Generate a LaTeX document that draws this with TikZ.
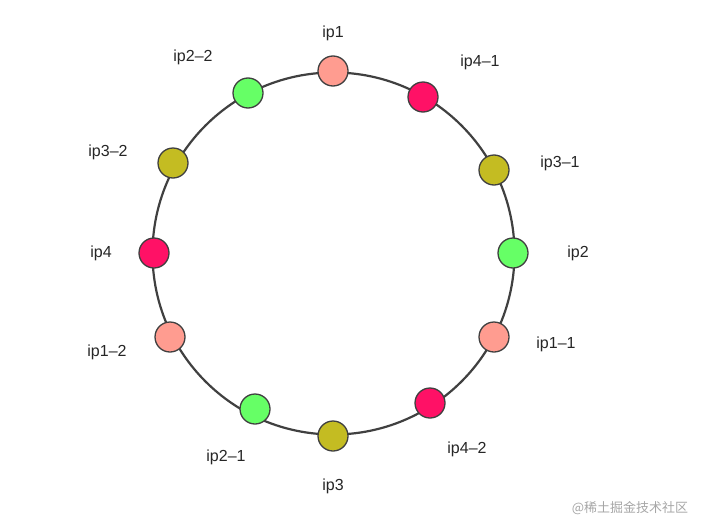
\documentclass[tikz,border=0pt]{standalone}
\usepackage{fontspec}
\setmainfont{Liberation Sans}
\newfontfamily\cjk{Noto Sans CJK SC}
\definecolor{salmon}{HTML}{FF9C90}
\definecolor{grn}{HTML}{66FF66}
\definecolor{mag}{HTML}{FF1166}
\definecolor{oli}{HTML}{C4BC22}
\begin{document}
\begin{tikzpicture}[x=1pt,y=-1pt,
  dot/.style={circle,draw=black!75,line width=1.3pt,minimum size=30pt,inner sep=0pt},
  lab/.style={font=\fontsize{16}{18}\selectfont,text=black!85}]
\useasboundingbox (0,0) rectangle (703,522);
\draw[black!75,line width=2.2pt] (333.5,253.5) circle (181);
\node[dot,fill=salmon] (n1) at (333,71) {};
\node[dot,fill=mag] (n41) at (423,97) {};
\node[dot,fill=oli] (n31) at (494,170) {};
\node[dot,fill=grn] (n2) at (513,253) {};
\node[dot,fill=salmon] (n11) at (494,337) {};
\node[dot,fill=mag] (n42) at (430,403) {};
\node[dot,fill=oli] (n3) at (333,436) {};
\node[dot,fill=grn] (n21) at (255,409) {};
\node[dot,fill=salmon] (n12) at (170,337) {};
\node[dot,fill=mag] (n4) at (154,253) {};
\node[dot,fill=oli] (n32) at (173,163) {};
\node[dot,fill=grn] (n22) at (248,93) {};
\node[lab] (l1) at (333,33) {ip1};
\node[lab] (l41) at (480,62) {ip4–1};
\node[lab] (l31) at (560,163) {ip3–1};
\node[lab] (l2) at (578,253) {ip2};
\node[lab] (l11) at (556,344) {ip1–1};
\node[lab] (l42) at (467,449) {ip4–2};
\node[lab] (l3) at (333,486) {ip3};
\node[lab] (l21) at (226,457) {ip2–1};
\node[lab] (l12) at (107,352) {ip1–2};
\node[lab] (l4) at (101,253) {ip4};
\node[lab] (l32) at (108,152) {ip3–2};
\node[lab] (l22) at (193,57) {ip2–2};
\node[font=\cjk\fontsize{13}{15}\selectfont,text=black!35] (wm) at (630,508) {@稀土掘金技术社区};
\end{tikzpicture}
\end{document}
